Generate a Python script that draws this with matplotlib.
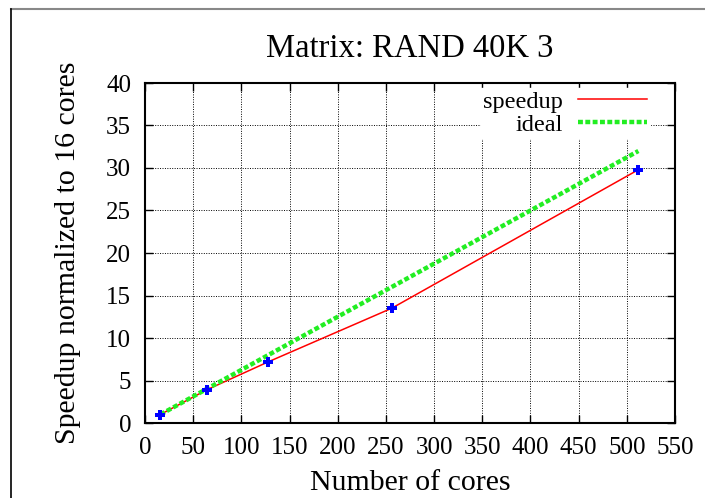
import matplotlib
matplotlib.use("Agg")
import matplotlib.pyplot as plt
from matplotlib.lines import Line2D

cores = [16, 64, 128, 256, 512]
speedup = [1.0, 3.9, 7.2, 13.5, 29.8]
ideal = [1, 4, 8, 16, 32]
xticks = list(range(0, 551, 50))
yticks = list(range(0, 41, 5))

plt.rcParams['font.family'] = ['Liberation Serif', 'DejaVu Serif']

W, H = 705, 498
fig = plt.figure(figsize=(W / 100, H / 100), dpi=100)
ax = fig.add_axes([145 / W, 1 - 423 / H, (675 - 145) / W, (423 - 83) / H])

ax.plot(cores, speedup, color='#ff0000', lw=1.1, label='speedup', zorder=3)
ax.plot(cores, ideal, color='#22ee22', lw=3.2, linestyle=(0, (1.1, 0.55)),
        label='ideal', zorder=4)
ax.plot(cores, speedup, linestyle='none', marker='P', color='#0000ff',
        markersize=7, markeredgewidth=0, zorder=5)

ax.set_xlim(0, 550)
ax.set_ylim(0, 40)
ax.set_xticks(xticks)
ax.set_yticks(yticks)
ax.tick_params(direction='in', length=6, width=1, top=True, right=True,
               labelsize=18)
ax.tick_params(axis='x', pad=10)
ax.tick_params(axis='y', pad=10)
ax.grid(True, color='black', linestyle=(0, (1, 1.5)), lw=0.7)
ax.set_axisbelow(True)
for s in ax.spines.values():
    s.set_linewidth(1.5)

ax.set_title('Matrix: RAND 40K 3', fontsize=23.5, pad=19)
ax.set_xlabel('Number of cores', fontsize=21.5, labelpad=8)
ax.set_ylabel('Speedup normalized to 16 cores', fontsize=21.5, labelpad=18)

leg = ax.legend(loc='upper right', bbox_to_anchor=(0.952, 0.985),
                markerfirst=False, frameon=True,
                fontsize=17.5, handlelength=2.85, handletextpad=0.6,
                labelspacing=0.05, borderpad=0.1, borderaxespad=0.0,
                fancybox=False)
leg.get_frame().set_edgecolor('white')
leg.get_frame().set_facecolor('white')
leg.get_frame().set_alpha(1)

fig.add_artist(Line2D([11 / W, 1], [1 - 9 / H, 1 - 9 / H], color='#888888', lw=1.5))
fig.add_artist(Line2D([11 / W, 11 / W], [0, 1 - 9 / H], color='black', lw=1.2))

fig.savefig('out.png', dpi=100, facecolor='white')
